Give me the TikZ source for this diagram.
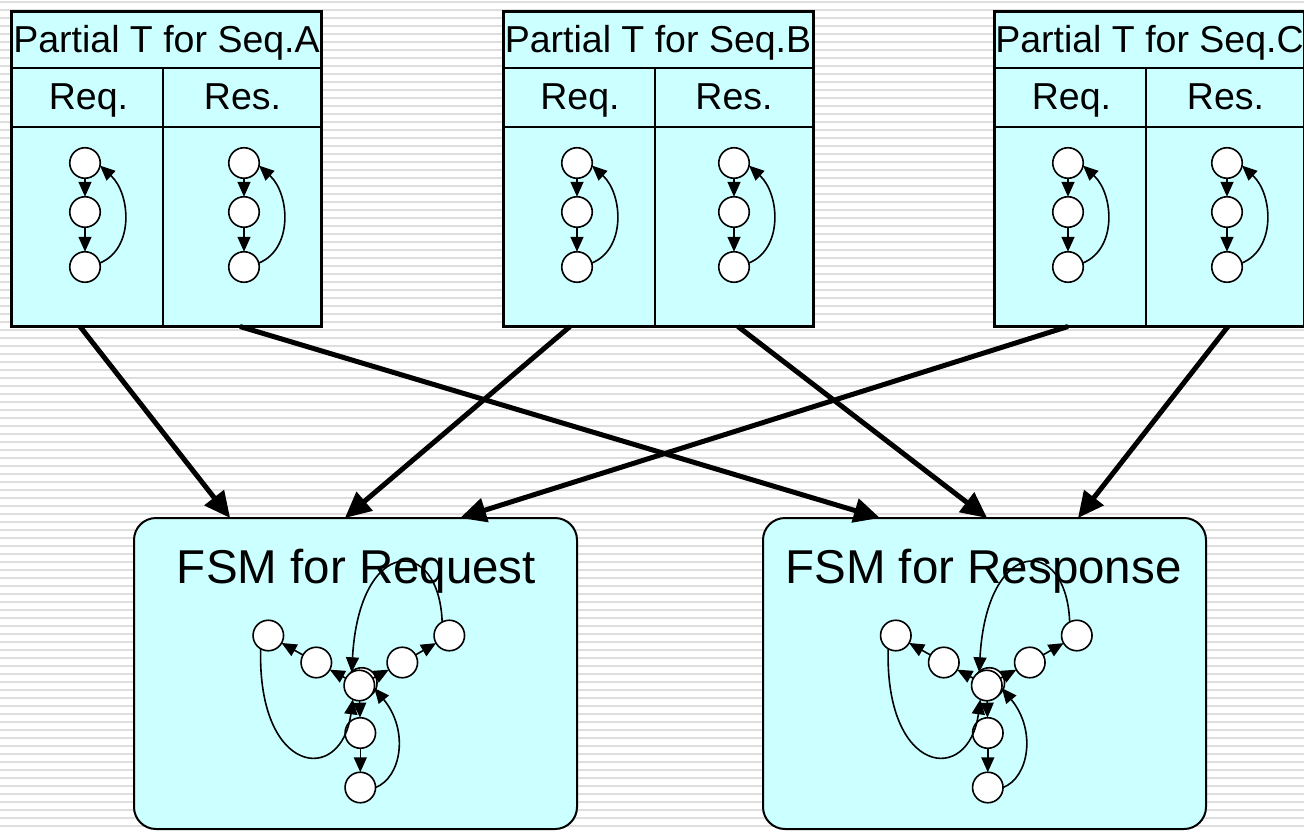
\documentclass[tikz,border=0pt]{standalone}
\usepackage{fontspec}
\setmainfont{Liberation Sans}
\usetikzlibrary{arrows.meta,calc}

\definecolor{paleaqua}{HTML}{CCFFFF}
\definecolor{stripegray}{HTML}{DEDEDE}

\tikzset{
  stripe/.style={draw=stripegray,line width=1.6pt},
  state/.style={circle,draw,line width=1.6pt,fill=white,minimum size=30.5pt,inner sep=0pt,outer sep=0pt},
  small edge/.style={line width=1.6pt,-{Triangle[length=15pt,width=13pt]}},
  big edge/.style={line width=5pt,-{Triangle[length=26pt,width=24pt]}},
  rule/.style={line width=2pt},
  tablebox/.style={fill=paleaqua,minimum width=310pt,minimum height=315pt,anchor=north west,inner sep=0pt,outer sep=0pt},
  tabletext/.style={font=\fontsize{37.5}{42}\selectfont,inner sep=0pt,anchor=base},
  fsmtext/.style={font=\fontsize{47.5}{52}\selectfont,inner sep=0pt,anchor=base},
  fsmbox/.style={draw,line width=2pt,fill=paleaqua,rounded corners=22pt,minimum width=443pt,minimum height=311pt,anchor=north west,inner sep=0pt,outer sep=0pt},
  % one "Partial T" table with its two columns
  pics/ptable/.style={code={
    \node[tablebox] (-box) at (0,0) {};
    \draw[rule] (0,-56.5) -- (310,-56.5);
    \draw[rule] (0,-115.5) -- (310,-115.5);
    \draw[rule] (151.5,-56.5) -- (151.5,-315);
    \node[tabletext] (-title) at (155,-41.5) {Partial T for Seq.#1};
    \node[tabletext] (-req) at (77,-98.5) {Req.};
    \node[tabletext] (-res) at (231,-98.5) {Res.};
    \draw[line width=3pt] (-box.north west) rectangle (-box.south east);
  }},
  % three states in a cycle
  pics/chain3/.style={code={
    \node[state] (-a) at (0,0) {};
    \node[state] (-b) at (0,-49) {};
    \node[state] (-c) at (0,-104) {};
    \draw[small edge] (-a) -- (-b);
    \draw[small edge] (-b) -- (-c);
    \draw[small edge] (-c.15) .. controls (49.5,-86) and (45.8,-30.8) .. (-a.-10);
  }},
  % merged machine: three cycles through a central state
  pics/fsmgraph/.style={code={
    \node[state] (-cb) at (2.5,2.5) {};
    \node[state] (-c) at (0,0) {};
    \node[state] (-l1) at (-43,23) {};
    \node[state] (-l2) at (-91,50) {};
    \node[state] (-r1) at (43,23) {};
    \node[state] (-r2) at (90,50) {};
    \node[state] (-d1) at (1,-47.5) {};
    \node[state] (-d2) at (1,-102) {};
    \draw[small edge] (-c) -- (-l1);
    \draw[small edge] (-l1) -- (-l2);
    \draw[small edge] (-c) -- (-r1);
    \draw[small edge] (-r1) -- (-r2);
    \draw[small edge] (-c) -- (-d1);
    \draw[small edge] (-d1) -- (-d2);
    \draw[small edge] (-l2.240) .. controls (-102,-90) and (-18,-100) .. (-c.245);
    \draw[small edge] (-r2.118) .. controls (80,150) and (0,150) .. (-c.120);
    \draw[small edge] (-d2.east) .. controls (42,-92) and (50,-45) .. (-c.-10);
  }},
}

\begin{document}
\begin{tikzpicture}[x=1pt,y=1pt]
  \useasboundingbox (0,0) rectangle (1304,-832);
  \fill[white] (0,0) rectangle (1304,-832);
  % striped backdrop
  \foreach \k in {0,...,104} {
    \draw[stripe] (0,{-8*\k-2}) -- (1304,{-8*\k-2});
  }

  % partial tables
  \pic (ta) at (11.5,-11.5) {ptable=A};
  \pic (tb) at (503,-11.5) {ptable=B};
  \pic (tc) at (994.5,-11.5) {ptable=C};

  \pic (aq) at (85,-163) {chain3};
  \pic (as) at (244,-163) {chain3};
  \pic (bq) at (577,-163) {chain3};
  \pic (bs) at (734,-163) {chain3};
  \pic (cq) at (1068,-163) {chain3};
  \pic (cs) at (1227,-163) {chain3};

  % merged machines
  \node[fsmbox] (fq) at (134,-518) {};
  \node[fsmbox] (fs) at (763,-518) {};
  \node[fsmtext] (fqt) at (356.5,-583) {FSM for Request};
  \node[fsmtext] (fst) at (983.5,-583) {FSM for Response};
  \pic (gq) at (359.3,-685.5) {fsmgraph};
  \pic (gs) at (986.8,-685.5) {fsmgraph};

  % tables feeding the machines
  \draw[big edge] ($(ta-box.south west)!0.221!(ta-box.south east)$) -- ($(fq.north west)!0.217!(fq.north east)$);
  \draw[big edge] ($(ta-box.south west)!0.737!(ta-box.south east)$) -- ($(fs.north west)!0.264!(fs.north east)$);
  \draw[big edge] ($(tb-box.south west)!0.216!(tb-box.south east)$) -- ($(fq.north west)!0.476!(fq.north east)$);
  \draw[big edge] ($(tb-box.south west)!0.758!(tb-box.south east)$) -- ($(fs.north west)!0.506!(fs.north east)$);
  \draw[big edge] ($(tc-box.south west)!0.237!(tc-box.south east)$) -- ($(fq.north west)!0.736!(fq.north east)$);
  \draw[big edge] ($(tc-box.south west)!0.753!(tc-box.south east)$) -- ($(fs.north west)!0.711!(fs.north east)$);
\end{tikzpicture}
\end{document}
